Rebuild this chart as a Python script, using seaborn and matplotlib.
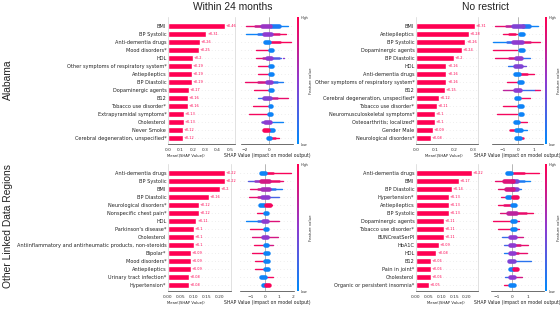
import numpy as np
import pandas as pd
import matplotlib
matplotlib.use("Agg")
import matplotlib.pyplot as plt
import seaborn as sns
from matplotlib.colors import LinearSegmentedColormap, Normalize
from matplotlib.cm import ScalarMappable

sns.set_theme(style="white")
plt.rcParams['font.family'] = ['DejaVu Sans']

# ---------------- data ----------------
col_titles = ["Within 24 months", "No restrict"]
row_titles = ["Alabama", "Other Linked Data Regions"]

tl_features = ["BMI", "BP Systolic", "Anti-dementia drugs", "Mood disorders*", "HDL",
               "Other symptoms of respiratory system*", "Antiepileptics", "BP Diastolic",
               "Dopaminergic agents", "B12", "Tobacco use disorder*", "Extrapyramidal symptoms*",
               "Cholesterol", "Never Smoke", "Cerebral degeneration, unspecified*"]
tl_values = [0.46, 0.31, 0.26, 0.25, 0.2, 0.19, 0.19, 0.19, 0.17, 0.16, 0.16, 0.13, 0.13, 0.12, 0.12]

tr_features = ["BMI", "Antiepileptics", "BP Systolic", "Dopaminergic agents", "BP Diastolic", "HDL",
               "Anti-dementia drugs", "Other symptoms of respiratory system*", "B12",
               "Cerebral degeneration, unspecified*", "Tobacco use disorder*",
               "Neuromusculoskeletal symptoms*", "Osteoarthritis; localized*", "Gender Male",
               "Neurological disorders*"]
tr_values = [0.31, 0.28, 0.26, 0.24, 0.2, 0.16, 0.16, 0.16, 0.15, 0.12, 0.11, 0.1, 0.1, 0.09, 0.08]

bl_features = ["Anti-dementia drugs", "BP Systolic", "BMI", "BP Diastolic", "Neurological disorders*",
               "Nonspecific chest pain*", "HDL", "Parkinson's disease*", "Cholesterol",
               "Antiinflammatory and antirheumatic products, non-steroids", "Bipolar*",
               "Mood disorders*", "Antiepileptics", "Urinary tract infection*", "Hypertension*"]
bl_values = [0.22, 0.22, 0.2, 0.16, 0.12, 0.12, 0.11, 0.1, 0.1, 0.1, 0.09, 0.09, 0.09, 0.08, 0.08]

br_features = ["Anti-dementia drugs", "BMI", "BP Diastolic", "Hypertension*", "Antiepileptics",
               "BP Systolic", "Dopaminergic agents", "Tobacco use disorder*", "BUNCreatSerPl",
               "HbA1C", "HDL", "B12", "Pain in joint*", "Cholesterol", "Organic or persistent insomnia*"]
br_values = [0.22, 0.17, 0.14, 0.13, 0.13, 0.13, 0.11, 0.11, 0.11, 0.09, 0.08, 0.06, 0.06, 0.06, 0.05]

# SHAP spread per row: (shap start, shap end, feature value 0=low..1=high, density 1..3)
tl_spread = [
    [(-1.9, -0.6, 0.9, 1), (-1.2, -0.4, 0.75, 2), (-0.6, 0.1, 0.55, 3), (0.2, 0.8, 0.1, 3), (0.8, 1.6, 0.05, 1)],
    [(-1.9, -0.5, 0.05, 1), (-0.9, -0.3, 0.15, 2), (-0.4, 0.2, 0.5, 3), (0.2, 0.8, 0.85, 2), (0.8, 1.4, 0.95, 1)],
    [(-0.3, 0.0, 0.05, 3), (0.2, 1.8, 0.97, 1), (0.2, 0.9, 0.95, 2)],
    [(-1.1, -0.05, 0.95, 1), (0.05, 0.25, 0.05, 3)],
    [(-1.1, -0.3, 0.9, 1), (-0.5, 0.0, 0.7, 2), (-0.15, 0.2, 0.5, 3), (0.2, 0.8, 0.3, 2), (0.8, 1.0, 0.2, 1),
     (1.2, 1.23, 0.5, 1), (1.4, 1.43, 0.6, 1)],
    [(-0.9, -0.05, 0.95, 1), (0.05, 0.25, 0.05, 3)],
    [(-0.9, -0.05, 0.95, 1), (0.05, 0.25, 0.05, 3)],
    [(-2.0, -0.6, 0.92, 1), (-0.9, -0.2, 0.8, 2), (-0.2, 0.15, 0.5, 3), (0.2, 0.7, 0.15, 2), (0.7, 1.2, 0.1, 1)],
    [(-1.25, -0.05, 0.95, 1), (0.05, 0.25, 0.05, 3)],
    [(-0.9, -0.3, 0.2, 1), (-0.4, 0.1, 0.45, 3), (0.1, 0.7, 0.75, 2), (0.7, 1.6, 0.9, 1)],
    [(-1.3, -0.05, 0.95, 1), (0.05, 0.2, 0.05, 3)],
    [(-1.7, -0.05, 0.95, 1), (0.0, 0.15, 0.05, 3)],
    [(-0.6, -0.2, 0.4, 2), (-0.3, 0.1, 0.5, 3), (0.1, 1.2, 0.05, 1), (1.5, 1.53, 0.1, 1)],
    [(-0.45, -0.1, 0.97, 3), (0.1, 0.3, 0.05, 3)],
    [(-0.1, 0.1, 0.05, 3), (0.1, 0.5, 0.95, 2), (0.5, 0.85, 0.95, 1)],
]
tr_spread = [
    [(-1.5, -0.5, 0.9, 1), (-0.8, -0.2, 0.7, 2), (-0.35, 0.35, 0.45, 3), (0.3, 0.7, 0.1, 3), (0.7, 1.3, 0.05, 1)],
    [(-1.0, -0.05, 0.95, 1), (-0.6, -0.2, 0.95, 2), (0.1, 0.3, 0.05, 3)],
    [(-1.6, -0.5, 0.05, 1), (-0.7, -0.2, 0.2, 2), (-0.3, 0.25, 0.5, 3), (0.25, 0.8, 0.85, 2), (0.8, 1.4, 0.95, 1)],
    [(-1.6, -0.05, 0.95, 1), (0.1, 0.3, 0.05, 3)],
    [(-1.5, -0.4, 0.92, 1), (-0.6, -0.1, 0.8, 2), (-0.15, 0.2, 0.5, 3), (0.2, 0.75, 0.15, 1)],
    [(-1.0, -0.97, 0.05, 1), (-0.65, -0.2, 0.15, 1), (-0.2, 0.2, 0.45, 3), (0.2, 0.5, 0.4, 1)],
    [(-0.2, 0.05, 0.05, 3), (0.1, 1.0, 0.95, 1), (0.1, 0.6, 0.95, 2)],
    [(-0.7, -0.05, 0.95, 1), (0.05, 0.25, 0.05, 3)],
    [(-0.95, -0.2, 0.7, 1), (-0.2, 0.15, 0.5, 3), (0.15, 1.1, 0.2, 1), (1.1, 1.4, 0.9, 1)],
    [(-0.15, 0.05, 0.05, 3), (0.1, 0.8, 0.95, 1)],
    [(-1.0, -0.05, 0.95, 1), (0.05, 0.25, 0.05, 3)],
    [(-1.35, -0.05, 0.95, 1), (0.1, 0.25, 0.05, 3)],
    [(-0.2, 0.0, 0.05, 3), (0.05, 0.6, 0.95, 1)],
    [(-0.5, -0.1, 0.95, 2), (-0.1, 0.2, 0.05, 3), (0.2, 0.55, 0.05, 1)],
    [(-0.1, 0.1, 0.05, 3), (0.1, 0.35, 0.95, 2)],
]
bl_spread = [
    [(-0.3, 0.0, 0.05, 3), (0.1, 1.85, 0.97, 1), (0.1, 0.6, 0.95, 2)],
    [(-1.2, -0.4, 0.3, 1), (-0.7, -0.2, 0.55, 2), (-0.3, 0.3, 0.8, 3), (0.3, 1.0, 0.9, 2), (1.0, 1.25, 0.9, 1)],
    [(-1.1, -0.3, 0.9, 1), (-0.5, 0.0, 0.8, 2), (-0.2, 0.25, 0.6, 3), (0.25, 0.7, 0.15, 2), (0.7, 1.2, 0.1, 1)],
    [(-1.15, -0.3, 0.9, 1), (-0.5, 0.0, 0.75, 2), (-0.2, 0.2, 0.5, 3), (0.2, 1.0, 0.25, 1)],
    [(-0.35, -0.1, 0.05, 3), (0.1, 0.35, 0.95, 3), (0.3, 0.5, 0.95, 1)],
    [(-0.6, -0.05, 0.95, 1), (0.0, 0.15, 0.05, 3)],
    [(-1.35, -0.5, 0.05, 1), (-0.5, -0.15, 0.2, 2), (-0.15, 0.15, 0.5, 3), (0.15, 1.0, 0.85, 1)],
    [(-1.1, -0.05, 0.95, 1), (0.0, 0.15, 0.05, 3)],
    [(-0.9, -0.2, 0.85, 1), (-0.15, 0.15, 0.5, 3), (0.15, 0.9, 0.8, 1)],
    [(-0.8, -0.05, 0.95, 1), (0.0, 0.15, 0.05, 3), (0.15, 0.6, 0.8, 1)],
    [(-0.9, -0.05, 0.95, 1), (0.0, 0.2, 0.05, 3)],
    [(-0.75, -0.05, 0.95, 1), (0.0, 0.2, 0.05, 3)],
    [(-0.75, -0.05, 0.95, 1), (0.0, 0.2, 0.05, 3)],
    [(-0.3, 0.0, 0.05, 3), (0.05, 0.55, 0.95, 1)],
    [(-0.15, 0.0, 0.05, 3), (0.05, 0.25, 0.97, 3)],
]
br_spread = [
    [(-0.35, -0.05, 0.05, 3), (0.05, 1.75, 0.97, 1), (0.05, 0.8, 0.95, 2)],
    [(-1.1, -0.4, 0.9, 1), (-0.5, 0.05, 0.85, 3), (0.0, 0.35, 0.4, 3), (0.35, 0.8, 0.1, 2), (0.8, 1.15, 0.05, 1)],
    [(-0.9, -0.3, 0.9, 1), (-0.4, 0.05, 0.8, 3), (0.0, 0.3, 0.45, 3), (0.3, 0.6, 0.1, 1)],
    [(-0.7, -0.3, 0.9, 1), (-0.35, -0.1, 0.05, 3), (0.05, 0.35, 0.95, 3)],
    [(-0.9, -0.05, 0.95, 1), (-0.5, -0.1, 0.9, 2), (0.0, 0.2, 0.05, 3)],
    [(-0.9, -0.87, 0.05, 1), (-0.8, -0.2, 0.85, 1), (-0.25, 0.25, 0.7, 3), (0.25, 0.9, 0.9, 2), (0.9, 1.35, 0.95, 1)],
    [(-1.25, -0.05, 0.95, 1), (0.0, 0.2, 0.05, 3), (0.25, 0.45, 0.9, 1)],
    [(-0.9, -0.05, 0.95, 1), (0.0, 0.2, 0.05, 3), (0.25, 0.45, 0.9, 1)],
    [(-0.65, -0.15, 0.2, 1), (-0.15, 0.2, 0.5, 3), (0.2, 0.7, 0.8, 1)],
    [(-0.5, -0.1, 0.25, 1), (-0.15, 0.1, 0.5, 3), (0.1, 1.05, 0.9, 1), (0.1, 0.5, 0.85, 2)],
    [(-0.5, -0.1, 0.1, 1), (-0.15, 0.1, 0.5, 3), (0.1, 0.95, 0.9, 1), (0.1, 0.4, 0.85, 2)],
    [(-0.2, 0.1, 0.45, 3), (0.1, 1.2, 0.15, 1)],
    [(-0.15, 0.05, 0.05, 3), (0.15, 0.35, 0.95, 3)],
    [(-0.45, -0.1, 0.2, 1), (-0.15, 0.1, 0.5, 3), (0.1, 0.65, 0.8, 1)],
    [(-0.5, -0.1, 0.95, 1), (-0.1, 0.1, 0.05, 3)],
]

# ---------------- style ----------------
W, H = 560, 309
RED = "#ff0052"
shap_cmap = LinearSegmentedColormap.from_list("shap_rb", ["#008bfb", "#8e3bd0", "#ff0052"])

fig = plt.figure(figsize=(W / 100, H / 100), dpi=100)


def box(x0, y0, x1, y1):
    return [x0 / W, 1 - y1 / H, (x1 - x0) / W, (y1 - y0) / H]


YLIM = (14.8, -1.1)
LW = {1: 1.0, 2: 1.8, 3: 3.3}


def draw_panel(features, values, spread, yr, bar_x, bar_xlim, bar_ticks, bar_fmt,
               bee_x, bee_xlim, bee_ticks, cbar_x, mean_x):
    y0, y1 = yr
    # ---- bar chart ----
    ax = fig.add_axes(box(bar_x[0], y0, bar_x[1], y1))
    sns.barplot(x=values, y=features, orient="h", color=RED, saturation=1, width=0.72, ax=ax)
    for i, v in enumerate(values):
        ax.axhline(i, color="#cccccc", lw=0.4, dashes=(1, 5), zorder=-1)
        ax.text(v + bar_xlim[1] * 0.012, i, f"+{v:g}", color=RED, fontsize=2.5, va="center", ha="left")
    ax.set_xlim(*bar_xlim)
    ax.set_ylim(*YLIM)
    ax.set_xticks(bar_ticks)
    ax.set_xticklabels([bar_fmt.format(t) for t in bar_ticks])
    ax.tick_params(axis="x", labelsize=3.2, length=1.5, width=0.4, pad=0.8, colors="#333333")
    ax.tick_params(axis="y", labelsize=3.6, length=0, pad=1.2, colors="#222222")
    ax.set_xlabel("")
    ax.set_ylabel("")
    ax.spines["top"].set_visible(False)
    for s in ("left", "right"):
        ax.spines[s].set_color("#d5d5d5")
        ax.spines[s].set_linewidth(0.5)
    ax.spines["bottom"].set_color("#333333")
    ax.spines["bottom"].set_linewidth(0.5)
    fig.text(mean_x / W, 1 - (y1 + 10.8) / H, "Mean(|SHAP Value|)", fontsize=2.7,
             ha="center", va="center", color="#222222")

    # ---- beeswarm-like spread ----
    bx = fig.add_axes(box(bee_x[0], y0, bee_x[1], y1))
    rows = []
    seg = 0
    for i, elems in enumerate(spread):
        for (a, b, c, w) in elems:
            rows.append(dict(seg=seg, x=a, y=i, c=c, w=w))
            rows.append(dict(seg=seg, x=b, y=i, c=c, w=w))
            seg += 1
    df = pd.DataFrame(rows)
    for i in range(len(spread)):
        bx.axhline(i, color="#cccccc", lw=0.4, dashes=(1, 5), zorder=-1)
    bx.axvline(0, color="#999999", lw=0.5, zorder=0)
    for w in (1, 2, 3):
        sub = df[df.w == w]
        if len(sub):
            sns.lineplot(data=sub, x="x", y="y", hue="c", units="seg", estimator=None, sort=False,
                         palette=shap_cmap, hue_norm=(0, 1), legend=False, ax=bx,
                         linewidth=LW[w], solid_capstyle="round")
    bx.set_xlim(*bee_xlim)
    bx.set_ylim(*YLIM)
    bx.set_xticks(bee_ticks)
    bx.set_xticklabels([str(t).replace("-", "\u2212") for t in bee_ticks])
    bx.set_yticks([])
    bx.tick_params(axis="x", labelsize=3.2, length=1.5, width=0.4, pad=0.8, colors="#333333")
    bx.set_ylabel("")
    bx.set_xlabel("SHAP Value (impact on model output)", fontsize=3.3, labelpad=1.0, color="#222222")
    for s in ("top", "left", "right"):
        bx.spines[s].set_visible(False)
    bx.spines["bottom"].set_color("#333333")
    bx.spines["bottom"].set_linewidth(0.5)

    # ---- colorbar ----
    cax = fig.add_axes(box(cbar_x[0], y0, cbar_x[1], y1))
    cb = fig.colorbar(ScalarMappable(norm=Normalize(0, 1), cmap=shap_cmap), cax=cax, ticks=[0, 1])
    cb.set_ticklabels(["Low", "High"])
    cb.outline.set_visible(False)
    cax.tick_params(labelsize=2.4, length=0, pad=1.0, colors="#333333")
    cb.set_label("Feature value", fontsize=2.8, labelpad=0.5, color="#333333")


TOP = (17.2, 144.4)
BOT = (164.2, 291.4)
bar_t1 = [0.0, 0.1, 0.2, 0.3, 0.4, 0.5]
bar_t2 = [0.0, 0.1, 0.2, 0.3]
bar_t3 = [0.0, 0.05, 0.10, 0.15, 0.20]

draw_panel(tl_features, tl_values, tl_spread, TOP, (168, 235), (0, 0.54), bar_t1, "{:.1f}",
           (241, 293), (-2.33, 2.0), [-2, 0], (296.5, 298.8), 186)
draw_panel(tr_features, tr_values, tr_spread, TOP, (416, 478), (0, 0.326), bar_t2, "{:.1f}",
           (492, 543), (-1.68, 1.61), [-1, 0, 1], (544.5, 546.8), 444)
draw_panel(bl_features, bl_values, bl_spread, BOT, (168, 231), (0, 0.244), bar_t3, "{:.2f}",
           (240, 294), (-1.79, 2.07), [-1, 0, 1, 2], (296.5, 298.8), 186)
draw_panel(br_features, br_values, br_spread, BOT, (416, 478), (0, 0.243), bar_t3, "{:.2f}",
           (491, 544), (-1.35, 2.06), [-1, 0, 1], (544.5, 546.8), 446)

# titles
tfont = ["Liberation Sans", "DejaVu Sans"]
fig.text(233 / W, 1 - 6.5 / H, col_titles[0], fontsize=7.4, ha="center", va="center", family=tfont, color="#222222")
fig.text(485 / W, 1 - 6.5 / H, col_titles[1], fontsize=7.4, ha="center", va="center", family=tfont, color="#222222")
fig.text(8 / W, 1 - 80 / H, row_titles[0], fontsize=7.4, ha="center", va="center", rotation=90, family=tfont, color="#222222")
fig.text(8 / W, 1 - 226 / H, row_titles[1], fontsize=7.4, ha="center", va="center", rotation=90, family=tfont, color="#222222")

fig.savefig("out.png", dpi=100, facecolor="white")
